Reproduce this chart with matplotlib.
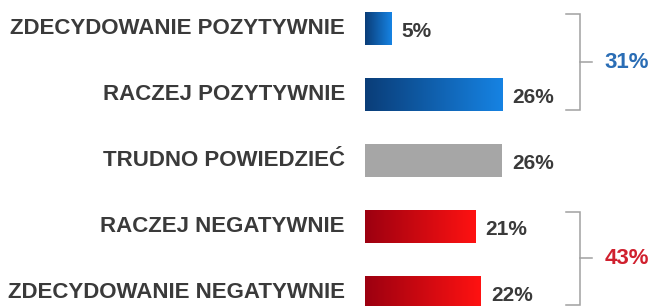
import numpy as np
import matplotlib
matplotlib.use("Agg")
import matplotlib.pyplot as plt
from matplotlib.colors import LinearSegmentedColormap

categories = ["ZDECYDOWANIE POZYTYWNIE", "RACZEJ POZYTYWNIE", "TRUDNO POWIEDZIEĆ",
              "RACZEJ NEGATYWNIE", "ZDECYDOWANIE NEGATYWNIE"]
values = [5, 26, 26, 21, 22]
value_labels = ["5%", "26%", "26%", "21%", "22%"]
groups = [(0, 1, "31%"), (3, 4, "43%")]

BLUE = LinearSegmentedColormap.from_list("blue", ["#0a3d78", "#1683e3"])
RED = LinearSegmentedColormap.from_list("red", ["#9c0010", "#ff1212"])
GRAY = "#a6a6a6"
bar_maps = [BLUE, BLUE, None, RED, RED]
group_colors = ["#2a6db5", "#d0202e"]
TEXT = "#3a3a3a"

plt.rcParams["font.family"] = ["Liberation Sans", "DejaVu Sans"]

fig = plt.figure(figsize=(6.51, 3.06), dpi=100)
ax = fig.add_axes([0, 0, 1, 1])
ax.set_xlim(-69.26, 54.27)
ax.set_ylim(4.205, -0.432)
ax.axis("off")

ys = np.arange(len(categories))
bars = ax.barh(ys, values, height=0.5, color=GRAY, edgecolor="none", zorder=2)
grad = np.linspace(0, 1, 256).reshape(1, -1)
for b, cmap in zip(bars, bar_maps):
    if cmap is None:
        continue
    b.set_facecolor("none")
    x0, y0 = b.get_x(), b.get_y()
    im = ax.imshow(grad, cmap=cmap, aspect="auto", zorder=3,
                   extent=[x0, x0 + b.get_width(), y0 + b.get_height(), y0])
    im.set_clip_path(b)

for y, lab, v, vl in zip(ys, categories, values, value_labels):
    ax.text(-3.8, y, lab, ha="right", va="center", fontsize=16,
            fontweight="bold", color=TEXT)
    ax.text(v + 1.9, y + 0.05, vl, ha="left", va="center", fontsize=15,
            fontweight="bold", color=TEXT)

# brackets
spans = [(-0.22, 1.235, 0.508), (2.78, 4.19, 3.48)]
for (g0, g1, lab), (top, bot, mid), col in zip(groups, spans, group_colors):
    ax.plot([38.1, 40.8, 40.8, 38.1], [top, top, bot, bot], color="#a0a0a0",
            lw=1.1, solid_joinstyle="miter", clip_on=False)
    ax.plot([40.8, 43.0], [mid, mid], color="#a0a0a0", lw=1.1)
    ax.text(45.5, mid, lab, ha="left", va="center", fontsize=16,
            fontweight="bold", color=col)

fig.savefig("out.png", dpi=100)
